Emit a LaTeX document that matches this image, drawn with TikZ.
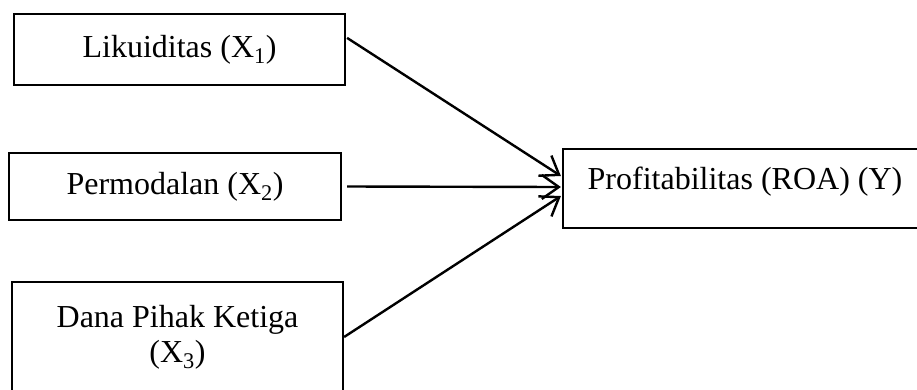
\documentclass[tikz,border=0pt]{standalone}
\usepackage{fontspec}
\setmainfont{Liberation Serif}
\usetikzlibrary{arrows.meta,calc}
\tikzset{
  box/.style={draw=black, line width=2.2pt, rectangle, inner sep=0pt, align=center,
    font=\fontsize{32}{35}\selectfont},
  conn/.style={line width=2.4pt, -{Straight Barb[length=17pt,width=24pt,line width=2.4pt]}}
}
\begin{document}
\begin{tikzpicture}[x=1pt,y=-1pt]
\useasboundingbox (0,0) rectangle (917,389);
\clip (0,0) rectangle (917,389);
\fill[white] (0,0) rectangle (917,389);
\node[box, minimum width=331pt, minimum height=71pt] (b1) at (179.5,49.5) {Likuiditas (X\textsubscript{1})};
\node[box, minimum width=332pt, minimum height=67pt] (b2) at (175,186.5) {Permodalan (X\textsubscript{2})};
\node[box, minimum width=331pt, minimum height=110pt] (b3) at (177.5,337) {Dana Pihak Ketiga\\(X\textsubscript{3})};
\node[box, minimum width=364pt, minimum height=79pt, text height=22pt, text depth=21pt] (y) at (745,188.5) {Profitabilitas (ROA) (Y)};
\draw[conn] ($(b1.north east)+(1,25)$) -- ($(y.west)+(-1,-12.5)$);
\draw[conn] ($(b2.east)+(5,0)$) -- ($(y.west)+(-1,-1.5)$);
\draw[conn] (b3.east) -- ($(y.west)+(-1,7.5)$);
\end{tikzpicture}
\end{document}
